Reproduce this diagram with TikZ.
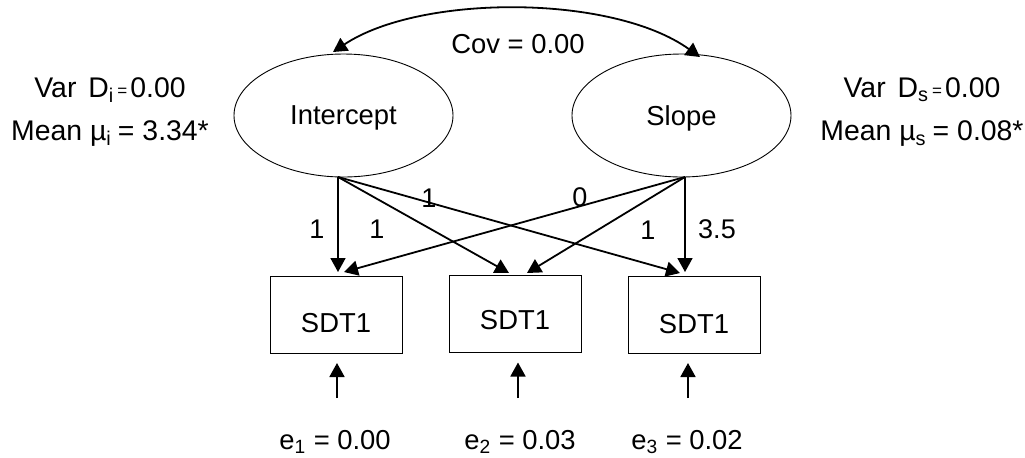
\documentclass[tikz,border=0pt]{standalone}
\usepackage{fontspec}
\setmainfont{Liberation Sans}
\usetikzlibrary{shapes.geometric,arrows.meta,calc}
\tikzset{
  latent/.style={draw, ellipse, line width=0.45pt, minimum width=109.5pt, minimum height=61.5pt, inner sep=0pt},
  obsbox/.style={draw, rectangle, line width=0.5pt, minimum width=66pt, minimum height=38.5pt, inner sep=0pt},
  tip/.tip={Triangle[length=7pt,width=7.5pt]},
  path/.style={line width=0.9pt, -tip},
  lbl/.style={inner sep=0pt, font=\fontsize{13.5pt}{16pt}\selectfont},
  txt/.style={inner sep=0pt, font=\fontsize{13.7pt}{16pt}\selectfont},
  side/.style={inner sep=0pt, font=\fontsize{14.2pt}{17pt}\selectfont},
}
\newcommand{\smeq}{\raisebox{0.8pt}{\fontsize{8.5pt}{10pt}\selectfont =}}
\begin{document}
\begin{tikzpicture}[x=0.5pt,y=-0.5pt]
\useasboundingbox (0,0) rectangle (1025,457);
% latent factors
\node[latent] (int) at (343.5,115.5) {};
\node[txt] (intt) at (343.5,118) {Intercept};
\node[latent] (slo) at (681.5,115.5) {};
\node[txt] (slot) at (681.5,118) {Slope};
% observed
\node[obsbox] (b1) at (336,315) {};
\node[txt] (b1t) at (336,323) {SDT1};
\node[obsbox] (b2) at (515,313.5) {};
\node[txt] (b2t) at (515,320) {SDT1};
\node[obsbox] (b3) at (694,315) {};
\node[txt] (b3t) at (694,324) {SDT1};
% anchor points
\coordinate (is) at ($(int.south)+(-5.5,-0.5)$);
\coordinate (ss) at ($(slo.south)+(3.5,-0.5)$);
\coordinate (t11) at (338,272);
\coordinate (t12) at (344,272);
\coordinate (t21) at (509,273);
\coordinate (t22) at (527,273);
\coordinate (t31) at (680,273);
\coordinate (t32) at (685,272);
% loadings
\draw[path] (is) -- (t11);
\draw[path] (is) -- (t21);
\draw[path] (is) -- (t31);
\draw[path] (ss) -- (t12);
\draw[path] (ss) -- (t22);
\draw[path] (ss) -- (t32);
\node[lbl] (l1) at (317,229) {1};
\node[lbl] (l2) at (377,229) {1};
\node[lbl] (l3) at (429,198) {1};
\node[lbl] (l4) at (580,197) {0};
\node[lbl] (l5) at (648,230) {1};
\node[lbl] (l6) at (717,229) {3.5};
% covariance
\coordinate (ct1) at (333,52);
\coordinate (ct2) at (700,57);
\draw[line width=0.9pt, tip-tip]
  (ct1) .. controls (420,-6) and (612,-6) .. (ct2);
\node[txt] (cov) at (518,44) {Cov = 0.00};
% variances and means
\node[side] (vi) at (110,90) {Var\hspace{6pt}D\textsubscript{i}\hspace{1.5pt}\smeq\hspace{1.5pt}0.00};
\node[side] (mi) at (110,134) {Mean µ\textsubscript{i}\hspace{3pt}=\hspace{4pt}3.34*};
\node[side] (vs) at (922,90) {Var\hspace{6pt}D\textsubscript{s}\hspace{1.5pt}\smeq\hspace{1.5pt}0.00};
\node[side] (ms) at (922,134) {Mean µ\textsubscript{s}\hspace{3pt}=\hspace{4pt}0.08*};
% errors
\node[txt] (e1) at (335,442) {e\textsubscript{1} = 0.00};
\node[txt] (e2) at (520,442) {e\textsubscript{2} = 0.03};
\node[txt] (e3) at (687,442) {e\textsubscript{3} = 0.02};
\coordinate (e1s) at (337,398);
\coordinate (e2s) at (518,398);
\coordinate (e3s) at (688,398);
\draw[path] (e1s) -- ($(b1.south)+(1,9)$);
\draw[path] (e2s) -- ($(b2.south)+(3,10)$);
\draw[path] (e3s) -- ($(b3.south)+(-6,9)$);
\end{tikzpicture}
\end{document}
